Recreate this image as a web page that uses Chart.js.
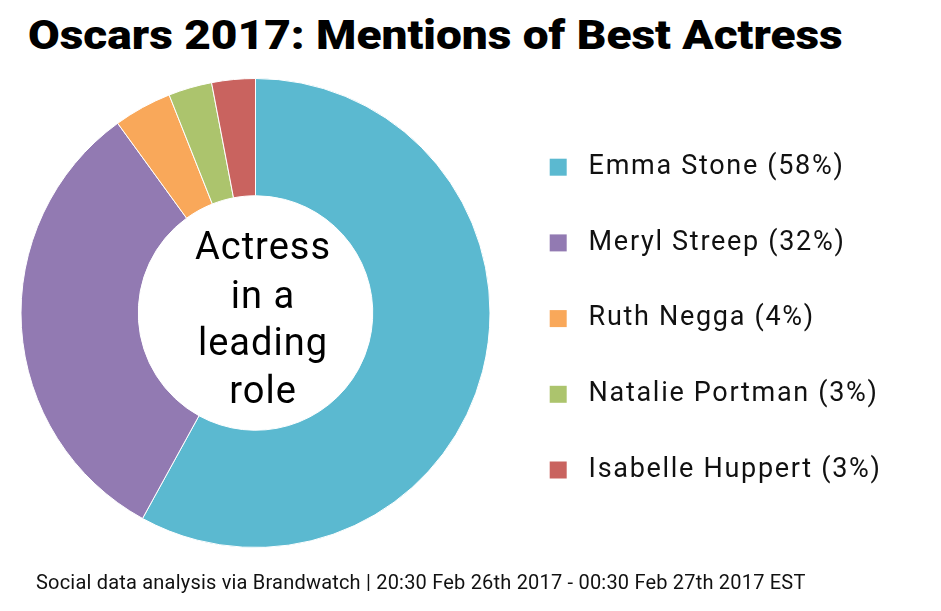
<!DOCTYPE html>
<html>
<head>
<meta charset="utf-8">
<title>Oscars 2017: Mentions of Best Actress</title>
<script src="https://cdn.jsdelivr.net/npm/chart.js@4/dist/chart.umd.min.js"></script>
<style>
  html, body { margin: 0; padding: 0; background: #fff; }
  #wrap { position: relative; width: 941px; height: 611px; overflow: hidden; }
  #chart { position: absolute; left: 0; top: 0; }
  .title {
    position: absolute; left: 28px; top: 15.5px; margin: 0;
    font: 900 40px/1 Roboto, sans-serif;
    transform: scaleX(1.15); transform-origin: 0 0;
    color: #000; white-space: nowrap;
  }
  .footer {
    position: absolute; left: 36px; top: 571.5px;
    font: 400 20px/1 Roboto, sans-serif; letter-spacing: 0.2px;
    color: #111; white-space: nowrap;
  }
</style>
</head>
<body>
<div id="wrap">
  <h1 class="title">Oscars 2017: Mentions of Best Actress</h1>
  <canvas id="chart" width="941" height="611"></canvas>
  <div class="footer">Social data analysis via Brandwatch | 20:30 Feb 26th 2017 - 00:30 Feb 27th 2017 EST</div>
</div>
<script>
// share of mentions, in %
const actresses = ["Emma Stone", "Meryl Streep", "Ruth Negga", "Natalie Portman", "Isabelle Huppert"];
const shares = [58, 32, 4, 3, 3];
const sliceColors = ["#5bb9d0", "#927ab2", "#f9a85a", "#acc46d", "#c9635f"];
const centerLines = ["Actress", "in a", "leading", "role"];

const LEGEND_WIDTH = 440;

// legend on the right gets a fixed width so the ring stays where it should
const legendWidthFix = {
  id: "legendWidthFix",
  beforeLayout(chart) {
    const lg = chart.legend;
    if (!lg || lg._fixed) return;
    const fit = lg.fit;
    lg.fit = function () { fit.call(this); this.width = LEGEND_WIDTH; };
    lg._fixed = true;
  },
  // legend text is a bit wider spaced than plain canvas text
  beforeDraw(chart) { chart.ctx.letterSpacing = "1.7px"; },
  beforeDatasetsDraw(chart) { chart.ctx.letterSpacing = "0px"; }
};

// "Actress in a leading role" in the hole
const centerText = {
  id: "centerText",
  afterDatasetsDraw(chart) {
    const arc = chart.getDatasetMeta(0).data[0];
    if (!arc) return;
    const ctx = chart.ctx;
    const offsets = [-54, -5.5, 42, 90];
    ctx.save();
    ctx.letterSpacing = "1px";
    ctx.font = "400 38px Roboto, sans-serif";
    ctx.fillStyle = "#000";
    ctx.textAlign = "center";
    ctx.textBaseline = "alphabetic";
    centerLines.forEach((line, i) => ctx.fillText(line, arc.x + 7.5, arc.y + offsets[i]));
    ctx.restore();
  }
};

new Chart(document.getElementById("chart"), {
  type: "doughnut",
  data: {
    labels: actresses,
    datasets: [{
      data: shares,
      backgroundColor: sliceColors,
      borderColor: "#ffffff",
      borderWidth: 1,
      hoverOffset: 0
    }]
  },
  options: {
    responsive: false,
    animation: false,
    cutout: "50%",
    layout: { padding: { top: 78, bottom: 63, left: 10, right: 0 } },
    plugins: {
      tooltip: { enabled: false },
      legend: {
        position: "right",
        align: "center",
        title: { display: true, text: "", font: { size: 1 }, padding: { top: 10, bottom: 0 } },
        labels: {
          boxWidth: 17,
          boxHeight: 17,
          padding: 48.7,
          color: "#111",
          font: { family: "Roboto", size: 27, weight: "400" },
          generateLabels(chart) {
            const ds = chart.data.datasets[0];
            return chart.data.labels.map((name, i) => ({
              text: " " + name + " (" + ds.data[i] + "%)",
              fillStyle: ds.backgroundColor[i],
              strokeStyle: ds.backgroundColor[i],
              fontColor: "#111",
              lineWidth: 0,
              hidden: false,
              index: i
            }));
          }
        }
      }
    }
  },
  plugins: [legendWidthFix, centerText]
});
</script>
</body>
</html>
